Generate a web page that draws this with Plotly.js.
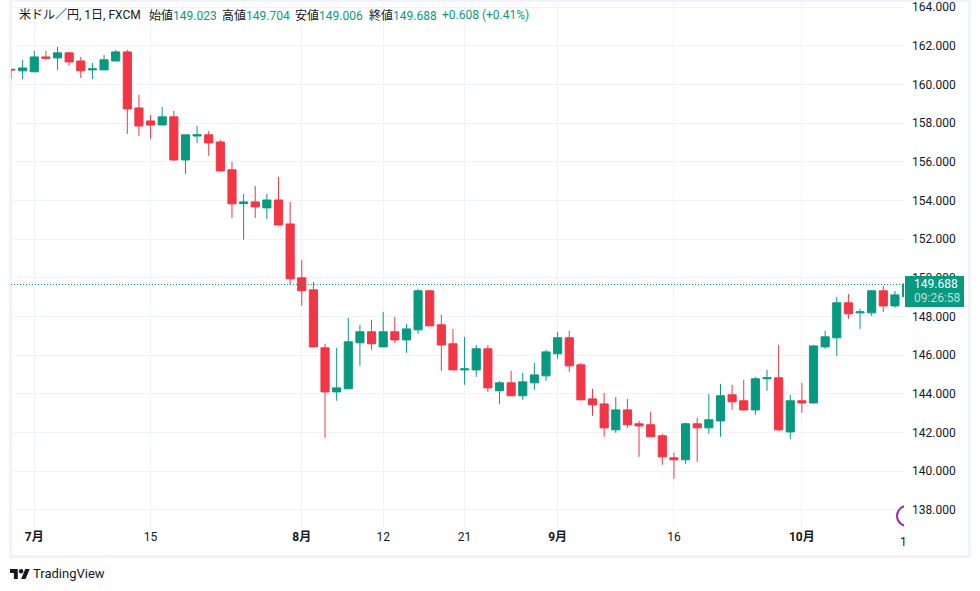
<!DOCTYPE html>
<html>
<head>
<meta charset="utf-8">
<script src="https://cdn.plot.ly/plotly-3.0.1.min.js"></script>
<style>
  html, body { margin: 0; padding: 0; background: #fff; overflow: hidden; }
  #frame { position: absolute; left: 9px; top: -1px; width: 956px; height: 553px; border: 3px solid #f0f3fa; }
  #chart { position: absolute; left: 0; top: 0; width: 980px; height: 591px; }
  #logo { position: absolute; left: 10px; top: 569px; }
  #brand { position: absolute; left: 33px; top: 566px; font: 13px Roboto, sans-serif; color: #131722; }
</style>
</head>
<body>
<div id="frame"></div>
<div id="chart"></div>
<svg id="logo" width="20" height="10" viewBox="0 4 36 18" preserveAspectRatio="none"><path fill="#131722" d="M14 22H7V11H0V4h14v18zM28 22h-8l7.5-18h8L28 22z"/><circle fill="#131722" cx="20" cy="8" r="4"/></svg>
<div id="brand">TradingView</div>
<script>
// USD/JPY daily
var opens = [160.79,160.71,160.66,161.43,161.38,161.64,161.22,160.76,160.76,161.22,
  161.69,158.79,158.12,157.91,158.33,156.10,157.34,157.40,157.03,155.59,
  153.84,153.93,153.62,154.03,152.79,150.00,149.38,146.38,144.10,144.26,
  146.64,147.21,146.43,147.21,146.79,147.31,149.33,147.57,146.59,145.24,
  145.24,146.33,144.16,144.57,143.90,144.57,144.93,146.07,146.90,145.50,
  143.74,143.48,142.14,143.17,142.45,142.40,141.83,140.69,140.59,142.45,
  142.24,142.60,143.95,143.64,143.17,144.78,144.83,142.03,143.64,143.53,
  146.43,146.90,148.71,148.19,148.19,149.33,148.55,149.023];
var highs = [160.79,161.26,161.74,161.74,161.95,161.69,161.43,161.12,161.53,161.79,
  161.79,159.47,158.43,158.84,158.64,157.40,157.86,157.60,157.14,156.00,
  154.34,154.76,154.34,155.22,153.93,150.93,149.79,146.59,146.38,147.93,
  147.57,147.83,148.24,147.98,147.62,149.43,149.38,148.09,147.36,146.95,
  146.53,146.53,144.67,145.19,145.09,145.60,146.28,147.21,147.26,145.60,
  144.26,144.05,143.84,143.74,142.60,143.07,141.93,140.95,142.50,142.76,
  144.00,144.52,144.47,144.72,144.88,145.24,146.53,143.95,144.57,146.53,
  147.26,149.02,149.17,148.40,149.38,149.59,149.33,149.704];
var lows = [160.28,160.29,160.66,161.28,160.76,160.97,160.34,160.29,160.76,161.22,
  157.45,157.34,157.19,157.91,156.05,155.38,156.98,156.31,155.53,153.10,
  151.97,153.10,153.05,152.69,149.64,148.55,146.43,141.72,143.64,144.26,
  145.45,146.28,146.43,146.64,146.12,147.10,147.52,145.19,145.24,144.47,
  144.88,144.10,143.48,143.90,143.69,144.21,144.67,145.81,145.14,143.69,
  142.86,141.78,141.98,142.24,140.74,141.78,140.33,139.60,140.38,140.48,
  141.93,141.78,143.17,143.12,142.91,144.16,142.09,141.67,143.02,143.48,
  146.33,145.97,147.88,147.36,148.03,148.24,148.45,149.006];
var closes = [160.76,160.86,161.43,161.36,161.64,161.17,160.71,160.81,161.28,161.69,
  158.74,157.86,157.91,158.33,156.10,157.40,157.40,156.98,155.53,153.83,
  153.93,153.67,154.03,152.74,149.95,149.33,146.43,144.10,144.31,146.69,
  147.21,146.59,147.21,146.79,147.36,149.33,147.52,146.53,145.24,145.29,
  146.33,144.31,144.57,143.90,144.62,144.98,146.17,146.90,145.45,143.69,
  143.43,142.24,143.17,142.40,142.34,141.78,140.74,140.59,142.45,142.24,
  142.66,143.90,143.59,143.17,144.78,144.83,142.14,143.64,143.53,146.48,
  146.95,148.71,148.14,148.24,149.33,148.55,149.12,149.688];
var days = opens.map(function (v, i) { return i; });

var monthTicks = [2, 12, 25, 32, 39, 47, 57, 68];
var monthLabels = ["<b>7月</b>", "15", "<b>8月</b>", "12", "21", "<b>9月</b>", "16", "<b>10月</b>"];
var priceTicks = [138, 140, 142, 144, 146, 148, 150, 152, 154, 156, 158, 160, 162, 164];

var lastClose = 149.688;
var headerNames = ["始値", "高値", "安値", "終値"];
var headerValues = ["149.023", "149.704", "149.006", "149.688"];
var headerPx = [148, 221, 294, 368];

var GREEN = "#089981";
var RED = "#f23645";
var TEXT = "#131722";
var GRID = "#f0f3fa";
var FONT = "Roboto, 'Noto Sans CJK JP', sans-serif";
var W = 980, H = 591;
var M = { l: 11, r: 76, t: 3, b: 63 };

// page pixels to paper coordinates (paper is the plot area, not the figure)
function px(x) { return (x - M.l) / (W - M.l - M.r); }
function py(y) { return 1 - (y - M.t) / (H - M.t - M.b); }

var trace = {
  type: "candlestick",
  x: days,
  open: opens,
  high: highs,
  low: lows,
  close: closes,
  increasing: { line: { color: GREEN, width: 1 }, fillcolor: GREEN },
  decreasing: { line: { color: RED, width: 1 }, fillcolor: RED },
  whiskerwidth: 0,
  showlegend: false,
  hoverinfo: "skip",
};

var annotations = [
  { x: px(18), y: py(15), text: "米ドル／円, 1日, FXCM", font: { size: 12, color: TEXT } },
  { x: px(441), y: py(15), text: "+0.608 (+0.41%)", font: { size: 12, color: GREEN } },
  { x: px(899), y: py(542), text: "1", font: { size: 12, color: TEXT } },
  { x: px(913), y: py(284), text: "149.688", font: { size: 12, color: "#fff" } },
  { x: px(913), y: py(298), text: "09:26:58", font: { size: 12, color: "rgba(255,255,255,0.72)" } },
];
headerNames.forEach(function (name, i) {
  annotations.push({
    x: px(headerPx[i]),
    y: py(15),
    text: name + '<span style="color:' + GREEN + '">' + headerValues[i] + "</span>",
    font: { size: 12, color: TEXT },
  });
});
annotations.forEach(function (a) {
  a.xref = "paper";
  a.yref = "paper";
  a.xanchor = "left";
  a.yanchor = "middle";
  a.showarrow = false;
  a.borderpad = 0;
});

var layout = {
  width: W,
  height: H,
  margin: { l: M.l, r: M.r, t: M.t, b: M.b, pad: 0 },
  paper_bgcolor: "rgba(0,0,0,0)",
  plot_bgcolor: "rgba(0,0,0,0)",
  font: { family: FONT, size: 12, color: TEXT },
  boxgap: 0.3,
  boxgroupgap: 0,
  showlegend: false,
  xaxis: {
    type: "linear",
    range: [0, 76.78],
    rangeslider: { visible: false },
    tickmode: "array",
    tickvals: monthTicks,
    ticktext: monthLabels,
    ticks: "",
    showgrid: true,
    gridcolor: GRID,
    gridwidth: 1,
    zeroline: false,
    showline: false,
    tickfont: { size: 12, color: TEXT },
  },
  yaxis: {
    side: "right",
    range: [137.06, 164.22],
    tickmode: "array",
    tickvals: priceTicks,
    tickformat: ".3f",
    ticks: "",
    ticklabelstandoff: 7,
    showgrid: true,
    gridcolor: GRID,
    gridwidth: 1,
    zeroline: false,
    showline: false,
    tickfont: { size: 12, color: TEXT },
  },
  shapes: [
    {
      // nudged a hair so the dots land on a whole pixel row
      type: "line",
      xref: "x",
      yref: "y",
      x0: 0,
      x1: 76.78,
      y0: lastClose - 0.03,
      y1: lastClose - 0.03,
      line: { color: GREEN, width: 1, dash: "1px,2px" },
    },
    {
      type: "circle",
      xref: "x",
      yref: "y",
      x0: 76.18,
      x1: 77.9,
      y0: 137.17,
      y1: 138.2,
      line: { color: "#9c27b0", width: 2 },
    },
    {
      type: "rect",
      xref: "paper",
      yref: "paper",
      x0: px(905),
      x1: px(964),
      y0: py(276),
      y1: py(307),
      line: { width: 0 },
      fillcolor: GREEN,
    },
  ],
  annotations: annotations,
};

Plotly.newPlot("chart", [trace], layout, { displayModeBar: false, responsive: false });
</script>
</body>
</html>
